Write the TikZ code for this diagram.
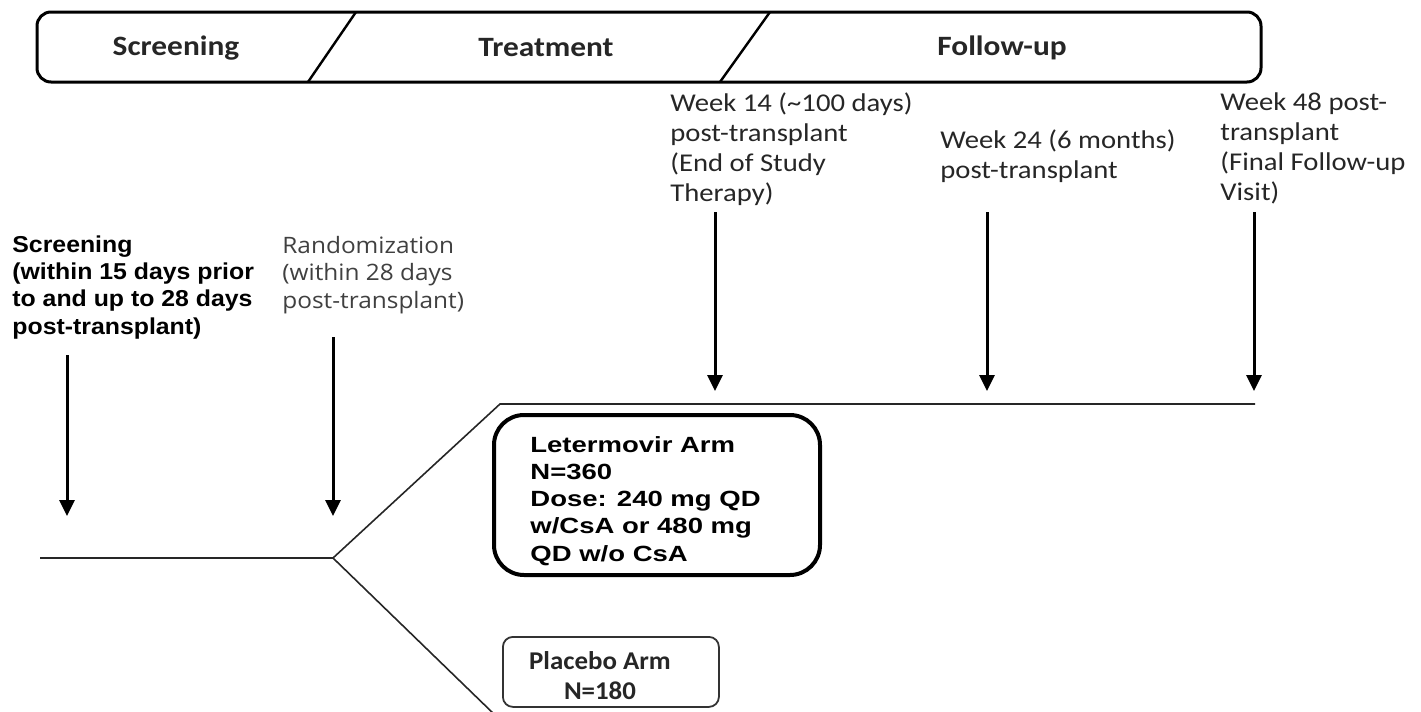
\documentclass[tikz,border=0pt]{standalone}
\usepackage{fontspec}
\usetikzlibrary{arrows.meta}
\newfontfamily\calbold[FakeStretch=1.12]{Carlito Bold}
\newfontfamily\calreg[FakeStretch=1.12]{Carlito}
\newfontfamily\plbold[FakeStretch=1.05]{Carlito Bold}
\newfontfamily\arbscr[FakeStretch=1.08]{Liberation Sans Bold}
\newfontfamily\arblet[FakeStretch=1.25]{Liberation Sans Bold}
\newfontfamily\opnreg[FakeStretch=1.08]{Open Sans}
\tikzset{
  banner/.style={line width=1.5pt, rounded corners=7pt},
  phasetxt/.style={font=\calbold\fontsize{14}{16}\selectfont, text=black!85, inner sep=0pt},
  weektxt/.style={font=\calreg\fontsize{12.8}{15}\selectfont, text=black!85, align=left, anchor=north west, inner sep=0pt},
  scrtxt/.style={font=\arbscr\fontsize{11.5}{13.7}\selectfont, align=left, anchor=north west, inner sep=0pt},
  randtxt/.style={font=\opnreg\fontsize{11.3}{13.7}\selectfont, text=black!75, align=left, anchor=north west, inner sep=0pt},
  bigarrow/.style={line width=1.5pt, -{Triangle[width=7.5pt,length=8pt]}},
  thinline/.style={line width=0.8pt, black!85},
  letbox/.style={draw, line width=2pt, rounded corners=15pt, minimum width=163pt, minimum height=80pt, anchor=north west, inner sep=0pt},
  placebox/.style={draw, black!80, line width=0.9pt, rounded corners=5pt, minimum width=108pt, minimum height=35pt, anchor=north west, inner sep=0pt}
}
\begin{document}
\begin{tikzpicture}[x=0.5pt,y=-0.5pt]
\useasboundingbox (0,0) rectangle (1421,712);
% banner
\draw[banner] (37,12) rectangle (1261,82);
\draw[line width=1.2pt] (356,12) -- (308,82);
\draw[line width=1.2pt] (770,12) -- (720,82);
\node[phasetxt] (ph1) at (176,48) {Screening};
\node[phasetxt] (ph2) at (546,48) {Treatment};
\node[phasetxt] (ph3) at (1002,48) {Follow-up};
% texts
\node[scrtxt] (scr) at (12,235) {Screening\\(within 15 days prior\\to and up to 28 days\\post-transplant)};
\node[randtxt] (rand) at (282,236) {Randomization\\(within 28 days\\post-transplant)};
\node[weektxt] (w14) at (670,92) {Week 14 (\char`\~100 days)\\post-transplant\\(End of Study\\Therapy)};
\node[weektxt] (w24) at (940,129) {Week 24 (6 months)\\post-transplant};
\node[weektxt] (w48) at (1220,92) {Week 48 post-\\transplant\\(Final Follow-up\\Visit)};
% arrow coordinates
\coordinate (a1s) at (67,355);  \coordinate (a1e) at (67,516);
\coordinate (a2s) at (333,337); \coordinate (a2e) at (333,516);
\coordinate (a3s) at (715,212); \coordinate (a3e) at (715,391);
\coordinate (a4s) at (987,212); \coordinate (a4e) at (987,391);
\coordinate (a5s) at (1254,212); \coordinate (a5e) at (1254,391);
\foreach \i in {1,...,5} \draw[bigarrow] (a\i s) -- (a\i e);
% branch lines
\coordinate (start) at (40,558);
\coordinate (split) at (333,558);
\coordinate (upk) at (500,404);
\coordinate (upend) at (1255,404);
\coordinate (downend) at (496,716);
\draw[thinline] (start) -- (split) -- (upk) -- (upend);
\draw[thinline] (split) -- (downend);
% boxes
\node[letbox] (let) at (492,413) {};
\node[font=\arblet\fontsize{11}{13.6}\selectfont, align=left, anchor=north west, inner sep=0pt] (lettxt) at (530,436) {Letermovir Arm\\N=360\\Dose: 240 mg QD\\w/CsA or 480 mg\\QD w/o CsA};
\node[placebox] (pla) at (502,636) {};
\node[font=\plbold\fontsize{12.8}{15}\selectfont, text=black!85, align=center, inner sep=0pt] (platxt) at (600,676) {Placebo Arm\\N=180};
\end{tikzpicture}
\end{document}
